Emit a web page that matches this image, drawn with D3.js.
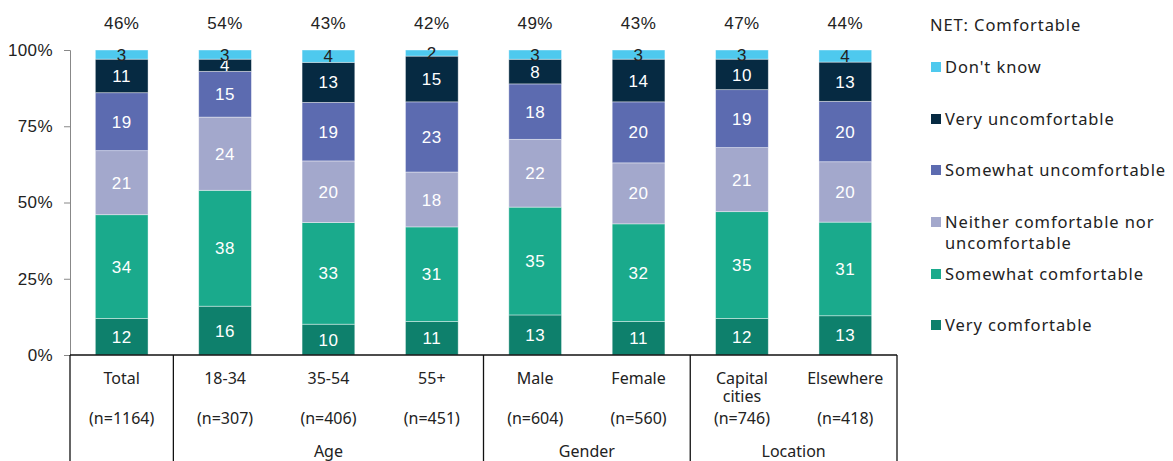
<!DOCTYPE html>
<html>
<head>
<meta charset="utf-8">
<script src="https://cdn.jsdelivr.net/npm/d3@7"></script>
<style>
  body { margin: 0; background: #fff; }
  svg { display: block; }
</style>
</head>
<body>
<svg id="chart" width="1173" height="461"></svg>
<script>
// categories along the x axis
let categories = ["Total", "18-34", "35-54", "55+", "Male", "Female", "Capital cities", "Elsewhere"];
let catLines = [["Total"], ["18-34"], ["35-54"], ["55+"], ["Male"], ["Female"], ["Capital", "cities"], ["Elsewhere"]];
let sampleSizes = ["(n=1164)", "(n=307)", "(n=406)", "(n=451)", "(n=604)", "(n=560)", "(n=746)", "(n=418)"];
let groups = [{ name: "", from: 0, to: 0 }, { name: "Age", from: 1, to: 3 }, { name: "Gender", from: 4, to: 5 }, { name: "Location", from: 6, to: 7 }];

// series, bottom to top
let seriesNames = ["Very comfortable", "Somewhat comfortable", "Neither comfortable nor uncomfortable", "Somewhat uncomfortable", "Very uncomfortable", "Don't know"];
let veryComfortable = [12, 16, 10, 11, 13, 11, 12, 13];
let somewhatComfortable = [34, 38, 33, 31, 35, 32, 35, 31];
let neither = [21, 24, 20, 18, 22, 20, 21, 20];
let somewhatUncomfortable = [19, 15, 19, 23, 18, 20, 19, 20];
let veryUncomfortable = [11, 4, 13, 15, 8, 14, 10, 13];
let dontKnow = [3, 3, 4, 2, 3, 3, 3, 4];
let netComfortable = [46, 54, 43, 42, 49, 43, 47, 44];
let yTicks = [0, 0.25, 0.5, 0.75, 1];

let colors = ["#0e806c", "#1aaa8c", "#a3a8cc", "#5c6bb0", "#062a42", "#4ec9ee"];
let labelColors = ["#fff", "#fff", "#fff", "#fff", "#fff", "#222"];

let allSeries = [veryComfortable, somewhatComfortable, neither, somewhatUncomfortable, veryUncomfortable, dontKnow];
let rows = categories.map(function (c, i) {
    let r = { cat: c };
    seriesNames.forEach(function (s, j) { r[s] = allSeries[j][i]; });
    return r;
});

let stacked = d3.stack().keys(seriesNames).offset(d3.stackOffsetExpand)(rows);

let svg = d3.select('#chart');
let mLeft = 70, mRight = 897, mTop = 50, mBottom = 355;

let x = d3.scaleBand().domain(categories).range([mLeft, mRight]).paddingInner(0.49).paddingOuter(0.245);
let y = d3.scaleLinear().domain([0, 1]).range([mBottom, mTop]);

let numFont = "'Liberation Sans', Arial, sans-serif";
let textFont = "'Noto Sans', 'Open Sans', sans-serif";

// y axis
let yAxis = svg.append('g')
    .attr('transform', 'translate(' + mLeft + ',0)')
    .call(d3.axisLeft(y).tickValues(yTicks).tickFormat(d3.format('.0%')).tickSize(6).tickPadding(11));
yAxis.select('.domain').attr('stroke', '#888');
yAxis.selectAll('.tick line').attr('stroke', '#888');
yAxis.selectAll('text').attr('font-family', numFont).attr('font-size', 17).attr('letter-spacing', 0.4).attr('fill', '#222');

// bars
let layer = svg.append('g').selectAll('g')
    .data(stacked)
    .join('g')
    .attr('fill', function (d, i) { return colors[i]; });

layer.selectAll('rect')
    .data(function (d) { return d; })
    .join('rect')
    .attr('x', function (d) { return x(d.data.cat); })
    .attr('width', x.bandwidth())
    .attr('y', function (d) { return y(d[1]); })
    .attr('height', function (d) { return y(d[0]) - y(d[1]); })
    .attr('stroke', '#fff')
    .attr('stroke-opacity', 0.5)
    .attr('stroke-width', 0.8);

// segment values
stacked.forEach(function (s, i) {
    svg.append('g').selectAll('text')
        .data(s)
        .join('text')
        .attr('x', function (d) { return x(d.data.cat) + x.bandwidth() / 2; })
        .attr('y', function (d) { return (y(d[0]) + y(d[1])) / 2; })
        .attr('dy', '0.36em')
        .attr('text-anchor', 'middle')
        .attr('font-family', numFont)
        .attr('font-size', 17)
        .attr('letter-spacing', 0.5)
        .attr('fill', labelColors[i])
        .text(function (d) { return d.data[s.key]; });
});

// net labels on top
svg.append('g').selectAll('text')
    .data(categories)
    .join('text')
    .attr('x', function (d) { return x(d) + x.bandwidth() / 2; })
    .attr('y', 29)
    .attr('text-anchor', 'middle')
    .attr('font-family', numFont)
    .attr('font-size', 17)
    .attr('letter-spacing', 0.5)
    .attr('fill', '#222')
    .text(function (d, i) { return netComfortable[i] + '%'; });

// bottom table
let step = x.step();
let bot = svg.append('g');
bot.append('line')
    .attr('x1', mLeft).attr('x2', mRight).attr('y1', mBottom).attr('y2', mBottom)
    .attr('stroke', '#111').attr('stroke-width', 1.3);
let seps = [0, 1, 4, 6, 8];
bot.selectAll('line.sep')
    .data(seps)
    .join('line')
    .attr('class', 'sep')
    .attr('x1', function (d) { return mLeft + d * step; })
    .attr('x2', function (d) { return mLeft + d * step; })
    .attr('y1', mBottom)
    .attr('y2', 461)
    .attr('stroke', '#111')
    .attr('stroke-width', 1.3);

bot.selectAll('text.cat')
    .data(catLines)
    .join('text')
    .attr('class', 'cat')
    .attr('x', function (d, i) { return x(categories[i]) + x.bandwidth() / 2; })
    .attr('y', 384)
    .attr('text-anchor', 'middle')
    .attr('font-family', textFont)
    .attr('font-size', 16)
    .attr('fill', '#222')
    .each(function (d) {
        let t = d3.select(this);
        d.forEach(function (line, k) {
            t.append('tspan')
                .attr('x', t.attr('x'))
                .attr('dy', k === 0 ? 0 : 18)
                .text(line);
        });
    });

bot.selectAll('text.n')
    .data(sampleSizes)
    .join('text')
    .attr('class', 'n')
    .attr('x', function (d, i) { return x(categories[i]) + x.bandwidth() / 2; })
    .attr('y', 424)
    .attr('text-anchor', 'middle')
    .attr('font-family', textFont)
    .attr('font-size', 16)
    .attr('fill', '#222')
    .text(function (d) { return d; });

bot.selectAll('text.grp')
    .data(groups)
    .join('text')
    .attr('class', 'grp')
    .attr('x', function (d) { return mLeft + (d.from + d.to + 1) / 2 * step; })
    .attr('y', 457)
    .attr('text-anchor', 'middle')
    .attr('font-family', textFont)
    .attr('font-size', 16)
    .attr('fill', '#222')
    .text(function (d) { return d.name; });

// legend
let legend = svg.append('g').attr('font-family', textFont).attr('font-size', 16.5).attr('letter-spacing', 0.9).attr('fill', '#222');
legend.append('text').attr('x', 930).attr('y', 31).text('NET: Comfortable');
let legendItems = [
    { i: 5, lines: ["Don't know"], y: 67 },
    { i: 4, lines: ["Very uncomfortable"], y: 119 },
    { i: 3, lines: ["Somewhat uncomfortable"], y: 170 },
    { i: 2, lines: ["Neither comfortable nor", "uncomfortable"], y: 222 },
    { i: 1, lines: ["Somewhat comfortable"], y: 274 },
    { i: 0, lines: ["Very comfortable"], y: 325 }
];
let li = legend.selectAll('g.item')
    .data(legendItems)
    .join('g')
    .attr('class', 'item');
li.append('rect')
    .attr('x', 931)
    .attr('y', function (d) { return d.y - 5; })
    .attr('width', 10)
    .attr('height', 10)
    .attr('fill', function (d) { return colors[d.i]; });
li.append('text')
    .attr('x', 945)
    .attr('y', function (d) { return d.y + 6; })
    .each(function (d) {
        let t = d3.select(this);
        d.lines.forEach(function (line, k) {
            t.append('tspan').attr('x', 945).attr('dy', k === 0 ? 0 : 21).text(line);
        });
    });
</script>
</body>
</html>
